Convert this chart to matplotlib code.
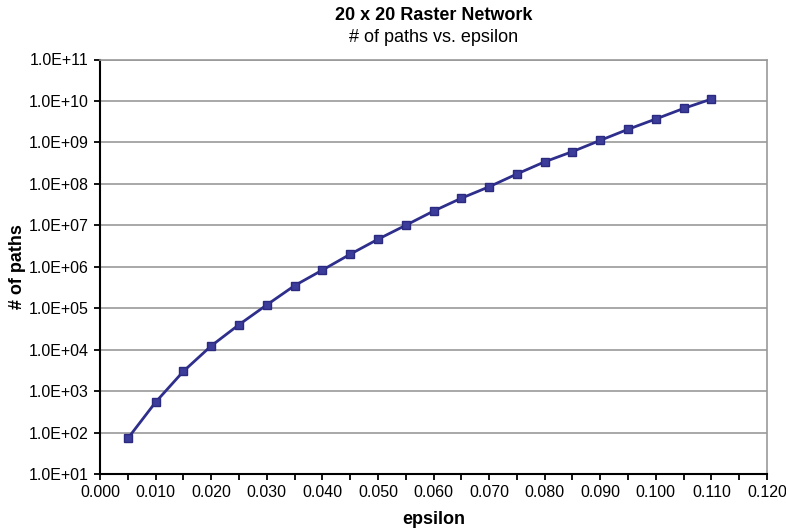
import math
import matplotlib
matplotlib.use("Agg")
import matplotlib.pyplot as plt
from matplotlib.ticker import FuncFormatter, MultipleLocator, LogLocator, NullLocator

plt.rcParams['font.family'] = ['Liberation Sans', 'DejaVu Sans']

# data
epsilon = [0.005, 0.010, 0.015, 0.020, 0.025, 0.030, 0.035, 0.040, 0.045, 0.050, 0.055,
           0.060, 0.065, 0.070, 0.075, 0.080, 0.085, 0.090, 0.095, 0.100, 0.105, 0.110]
paths = [72, 540, 3.0e3, 1.23e4, 4.0e4, 1.2e5, 3.5e5, 8.3e5, 2.0e6, 4.6e6, 1.0e7,
         2.2e7, 4.5e7, 8.5e7, 1.73e8, 3.4e8, 6.0e8, 1.12e9, 2.07e9, 3.67e9, 6.6e9, 1.11e10]

fig = plt.figure(figsize=(7.86, 5.31), dpi=100)
ax = fig.add_axes([100/786, 1 - 474/531, 667/786, (474 - 59.5)/531])

ax.plot(epsilon, paths, color='#2e2e8c', lw=2, marker='s', ms=5.5,
        markerfacecolor='#3c3c9a', markeredgecolor='#2a2a80', zorder=3)

ax.set_yscale('log')
ax.set_ylim(1e1, 1e11)
ax.set_xlim(0, 0.12)
ax.yaxis.set_major_locator(LogLocator(base=10, numticks=20))
ax.yaxis.set_minor_locator(NullLocator())
ax.yaxis.set_major_formatter(FuncFormatter(lambda v, p: '1.0E+%02d' % round(math.log10(v))))
ax.xaxis.set_major_locator(MultipleLocator(0.01))
ax.xaxis.set_minor_locator(MultipleLocator(0.005))
ax.xaxis.set_major_formatter(FuncFormatter(lambda v, p: '%.3f' % v))

ax.grid(axis='y', which='major', color='#999999', lw=1.2)
ax.set_axisbelow(True)
for s in ['top', 'right']:
    ax.spines[s].set_color('#999999')
    ax.spines[s].set_linewidth(1.2)
for s in ['left', 'bottom']:
    ax.spines[s].set_color('black')
    ax.spines[s].set_linewidth(1.5)
ax.tick_params(axis='both', which='major', direction='out', length=4, width=1.3, labelsize=11.5, pad=4)
ax.tick_params(axis='x', which='minor', direction='out', length=4, width=1.3)

ax.set_xlabel('epsilon', fontsize=13, fontweight='bold', labelpad=8)
ax.set_ylabel('# of paths', fontsize=13, fontweight='bold', labelpad=2)

cx = 0.5 * (100 + 767) / 786
fig.text(cx, 1 - 15/531, '20 x 20 Raster Network', ha='center', va='center',
         fontsize=13, fontweight='bold')
fig.text(cx, 1 - 38/531, '# of paths vs. epsilon', ha='center', va='center', fontsize=13)

fig.savefig('out.png', dpi=100)
